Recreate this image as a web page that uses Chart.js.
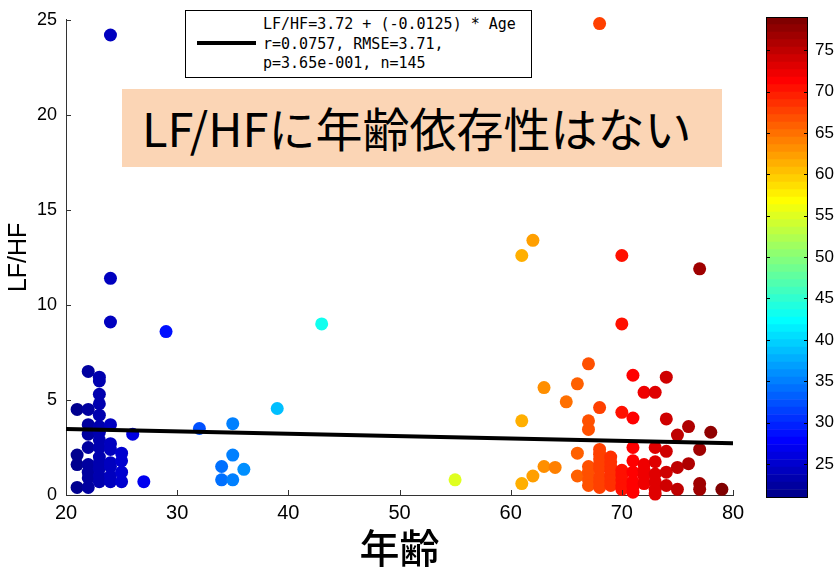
<!DOCTYPE html>
<html>
<head>
<meta charset="utf-8">
<script src="https://cdn.jsdelivr.net/npm/chart.js@4/dist/chart.umd.min.js"></script>
<style>
body{margin:0;background:#fff;}
#wrap{position:relative;width:836px;height:578px;overflow:hidden;}
#wrap canvas{position:absolute;top:0;}
#main{left:0;}
#cbar{left:740px;}
#legend{position:absolute;left:185px;top:10px;width:345px;height:66px;border:1.5px solid #000;background:#fff;}
#legend .swatch{position:absolute;left:11px;top:30px;width:59px;height:4px;background:#000;}
#legend .txt{position:absolute;left:77px;top:4px;font-family:"DejaVu Sans Mono",monospace;font-size:15px;line-height:19.5px;color:#000;white-space:pre;}
#note{position:absolute;left:122px;top:89px;width:600px;height:78px;background:#fbd5b5;}
#note span{position:absolute;left:20px;top:7px;font-family:"Noto Sans CJK JP",sans-serif;font-size:47px;line-height:62px;color:#000;white-space:nowrap;}
</style>
</head>
<body>
<div id="wrap">
  <canvas id="main" width="836" height="578"></canvas>
  <canvas id="cbar" width="96" height="578"></canvas>
  <div id="legend"><div class="swatch"></div><div class="txt">LF/HF=3.72 + (-0.0125) * Age
r=0.0757, RMSE=3.71,
p=3.65e-001, n=145</div></div>
  <div id="note"><span>LF/HFに年齢依存性はない</span></div>
</div>
<script>
// age (x) and LF/HF (y) of each subject
let ages = [
  21,21,21,21,
  22,22,22,22,22,22,22,22,22,
  23,23,23,23,23,23,23,23,23,23,23,23,23,23,
  24,24,24,24,24,24,24,24,24,24,
  25,25,25,25,
  26,27,29,32,34,34,35,35,35,36,39,43,55,
  61,61,61,62,62,63,63,64,65,66,66,66,
  67,67,67,67,67,67,67,
  68,68,68,68,68,68,68,68,68,68,
  69,69,69,69,69,69,69,
  70,70,70,70,70,70,70,70,
  71,71,71,71,71,71,71,71,
  72,72,72,72,72,
  73,73,73,73,73,73,73,
  74,74,74,74,74,
  75,75,75,76,76,77,77,77,77,78,79
];
let lfhf = [
  4.5,2.1,1.6,0.4,
  6.5,4.5,3.7,3.2,2.5,1.6,1.2,0.9,0.4,
  6.2,6.0,5.3,4.8,4.2,3.6,3.3,2.9,2.5,2.0,1.7,1.4,1.0,0.7,
  24.2,11.4,9.1,3.7,2.7,2.4,1.7,1.5,1.0,0.7,
  2.2,1.8,1.2,0.7,
  3.2,0.7,8.6,3.5,1.5,0.8,3.75,2.1,0.8,1.35,4.55,9.0,0.8,
  12.6,3.9,0.6,13.4,1.0,5.65,1.5,1.45,4.9,5.85,2.2,1.0,
  6.9,3.9,3.45,1.5,1.2,0.8,0.5,
  24.8,4.6,2.4,2.15,1.9,1.65,1.4,0.95,0.7,0.4,
  2.0,1.75,1.5,1.25,1.0,0.75,0.5,
  12.6,9.0,4.35,1.3,1.05,0.8,0.5,0.3,
  6.3,4.05,2.5,1.8,1.2,0.7,0.45,0.15,
  5.4,1.6,1.3,1.0,0.6,
  5.4,2.5,1.75,1.1,0.7,0.3,0.05,
  6.2,4.0,2.3,1.2,0.5,
  3.15,1.45,0.3,3.6,1.65,11.9,2.4,0.6,0.3,3.3,0.3
];
// regression line end points
let fitX = [20, 80];
let fitY = [3.47, 2.72];

let xTicks = [20,30,40,50,60,70,80];
let yTicks = [0,5,10,15,20,25];
let cbTicks = [25,30,35,40,45,50,55,60,65,70,75];
let cMin = 21, cMax = 79;

// matlab jet(64)
function jet(i){
  let v = (i+1)/64;
  let f = t => Math.round(255*Math.max(0,Math.min(1,t)));
  return `rgb(${f(1.5-Math.abs(4*v-3))},${f(1.5-Math.abs(4*v-2))},${f(1.5-Math.abs(4*v-1))})`;
}
function ageColor(a){
  let idx = Math.floor((a-cMin)/(cMax-cMin)*64);
  if(idx>63) idx=63;
  if(idx<0) idx=0;
  return jet(idx);
}

let pts = ages.map((a,i)=>({x:a, y:lfhf[i]}));
let cols = ages.map(a=>ageColor(a));

// ticks pointing inside the axes
let innerTicks = {
  id:'innerTicks',
  afterDraw(chart){
    let ctx = chart.ctx, ca = chart.chartArea;
    let xs = chart.scales.x, ys = chart.scales.y;
    ctx.save();
    ctx.strokeStyle = '#333';
    ctx.lineWidth = 1;
    ctx.beginPath();
    xTicks.forEach(v=>{
      let px = Math.round(xs.getPixelForValue(v))+0.5;
      ctx.moveTo(px, ca.bottom); ctx.lineTo(px, ca.bottom-5);
    });
    yTicks.forEach(v=>{
      let py = Math.round(ys.getPixelForValue(v))+0.5;
      ctx.moveTo(ca.left, py); ctx.lineTo(ca.left+5, py);
    });
    ctx.stroke();
    ctx.restore();
  }
};

new Chart(document.getElementById('main'), {
  type:'scatter',
  data:{
    datasets:[
      {
        type:'line',
        data: fitX.map((x,i)=>({x:x, y:fitY[i]})),
        borderColor:'#000',
        borderWidth:4,
        pointRadius:0,
        clip:false
      },
      {
        data: pts,
        pointBackgroundColor: cols,
        pointBorderWidth:0,
        pointRadius:6.5,
        clip:false
      }
    ]
  },
  options:{
    responsive:false,
    animation:false,
    events:[],
    layout:{padding:{left:0, right:103, top:12, bottom:0}},
    plugins:{legend:{display:false}, tooltip:{enabled:false}},
    scales:{
      x:{
        type:'linear', min:20, max:80,
        afterBuildTicks: s => { s.ticks = xTicks.map(v=>({value:v})); },
        afterFit: s => { s.height = 83; },
        grid:{display:false, drawTicks:false},
        border:{display:true, color:'#333', width:1},
        ticks:{padding:6, color:'#000', font:{family:'"Liberation Sans Narrow", "Liberation Sans"', size:20}},
        title:{display:true, text:'年齢', color:'#000', padding:{top:0,bottom:6},
               font:{family:'"Noto Sans CJK JP"', size:40, weight:'500'}}
      },
      y:{
        type:'linear', min:0, max:25,
        afterBuildTicks: s => { s.ticks = yTicks.map(v=>({value:v})); },
        afterFit: s => { s.width = 66; },
        grid:{display:false, drawTicks:false},
        border:{display:true, color:'#333', width:1},
        ticks:{padding:9, color:'#000', font:{family:'"Liberation Sans"', size:18}},
        title:{display:true, text:'LF/HF', color:'#000', padding:{top:4,bottom:0},
               font:{family:'"Liberation Sans"', size:25}}
      }
    }
  },
  plugins:[innerTicks]
});

// colour bar: floating bars, one per jet level
let cbSets = [];
for(let i=0;i<64;i++){
  let lo = cMin + (cMax-cMin)*i/64;
  let hi = cMin + (cMax-cMin)*(i+1)/64;
  cbSets.push({data:[[lo, hi]], backgroundColor:jet(i), borderWidth:0,
               grouped:false, barPercentage:1, categoryPercentage:1});
}
let cbFrame = {
  id:'cbFrame',
  afterDraw(chart){
    let ctx = chart.ctx, ca = chart.chartArea, ys = chart.scales.y;
    ctx.save();
    ctx.strokeStyle = '#000';
    ctx.lineWidth = 1;
    ctx.strokeRect(Math.round(ca.left)+0.5, Math.round(ca.top)+0.5,
                   Math.round(ca.right-ca.left)-1, Math.round(ca.bottom-ca.top));
    ctx.beginPath();
    cbTicks.forEach(v=>{
      let py = Math.round(ys.getPixelForValue(v))+0.5;
      ctx.moveTo(ca.left, py); ctx.lineTo(ca.left+4, py);
      ctx.moveTo(ca.right, py); ctx.lineTo(ca.right-4, py);
    });
    ctx.stroke();
    ctx.restore();
  }
};
new Chart(document.getElementById('cbar'), {
  type:'bar',
  data:{labels:['c'], datasets:cbSets},
  options:{
    responsive:false,
    animation:false,
    events:[],
    layout:{padding:{left:26, right:0, top:13, bottom:81}},
    plugins:{legend:{display:false}, tooltip:{enabled:false}},
    scales:{
      x:{display:false},
      y:{
        position:'right', min:cMin, max:cMax,
        afterBuildTicks: s => { s.ticks = cbTicks.map(v=>({value:v})); },
        afterFit: s => { s.width = 28; },
        grid:{display:false, drawTicks:false},
        border:{display:false},
        ticks:{padding:7, color:'#000', font:{family:'"Liberation Sans"', size:17}}
      }
    }
  },
  plugins:[cbFrame]
});
</script>
</body>
</html>
